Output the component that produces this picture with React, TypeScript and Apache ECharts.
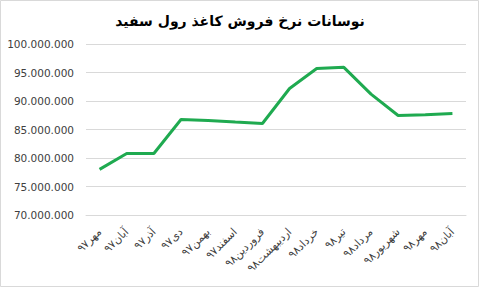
import React, { useEffect, useRef } from "react";
import * as echarts from "echarts";

const categories = [
  "مهر۹۷", "آبان۹۷", "آذر۹۷", "دی۹۷", "بهمن۹۷", "اسفند۹۷", "فروردین۹۸",
  "اردیبهشت۹۸", "خرداد۹۸", "تیر۹۸", "مرداد۹۸", "شهریور۹۸", "مهر۹۸", "آبان۹۸",
];
const prices = [
  78000000, 80800000, 80800000, 86750000, 86600000, 86300000, 86050000,
  92200000, 95700000, 95900000, 91200000, 87450000, 87600000, 87800000,
];
const title = "نوسانات نرخ فروش کاغذ رول سفید";

const fmt = (v: number) => String(Math.round(v)).replace(/\B(?=(\d{3})+(?!\d))/g, ".");

export default function App() {
  const ref = useRef<HTMLDivElement>(null);
  useEffect(() => {
    if (!ref.current) return;
    const chart = echarts.init(ref.current, null, { renderer: "svg" });
    chart.setOption({
      animation: false,
      backgroundColor: "#ffffff",
      title: {
        text: title,
        left: "center",
        top: 9,
        textStyle: { fontFamily: "DejaVu Sans", fontSize: 14, fontWeight: "bold", color: "#000" },
      },
      graphic: [
        {
          type: "rect",
          shape: { x: 0.5, y: 0.5, width: 478, height: 286 },
          style: { fill: "none", stroke: "#d9d9d9", lineWidth: 1 },
          silent: true,
        },
      ],
      grid: { left: 86, right: 14, top: 44, bottom: 73 },
      xAxis: {
        type: "category",
        data: categories,
        boundaryGap: true,
        axisLine: { show: true, lineStyle: { color: "#d9d9d9" } },
        axisTick: { show: false },
        axisLabel: {
          rotate: 45,
          interval: 0,
          margin: 15,
          fontFamily: "DejaVu Sans",
          fontSize: 11,
          color: "#404040",
        },
      },
      yAxis: {
        type: "value",
        min: 70000000,
        max: 100000000,
        interval: 5000000,
        axisLine: { show: false },
        axisTick: { show: false },
        splitLine: { lineStyle: { color: "#d9d9d9" } },
        axisLabel: {
          formatter: fmt,
          margin: 12,
          fontFamily: "DejaVu Sans",
          fontSize: 10.5,
          color: "#404040",
        },
      },
      series: [
        {
          type: "line",
          data: prices,
          symbol: "none",
          lineStyle: { color: "#1faa50", width: 3 },
        },
      ],
    });
    return () => chart.dispose();
  }, []);
  return <div ref={ref} style={{ width: 480, height: 288, position: "absolute", left: 0, top: 0 }} />;
}
